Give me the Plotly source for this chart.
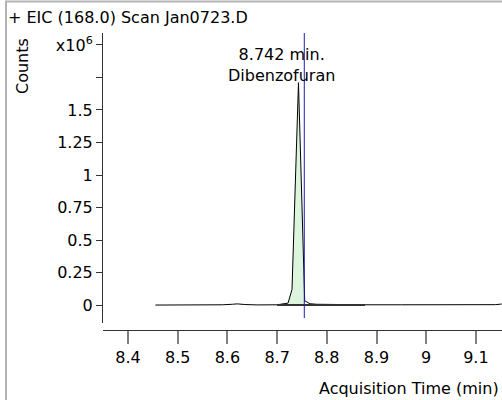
import plotly.graph_objects as go

# ---- data (counts in units of 1e6) ----
times = [8.455, 8.50, 8.55, 8.59, 8.61, 8.62, 8.635, 8.66, 8.70, 8.722, 8.730,
         8.743, 8.7555, 8.766, 8.78, 8.82, 8.877, 8.95, 9.05, 9.14, 9.152]
counts = [0.0, 0.0, 0.0, 0.002, 0.006, 0.009, 0.004, 0.001, 0.002, 0.015, 0.12,
          1.71, 0.033, 0.01, 0.006, 0.003, 0.002, 0.002, 0.002, 0.003, 0.008]
peak_start, peak_end = 9, 12          # indices of integrated peak region
baseline_x = [8.700, 8.877]
baseline_y = [0.0, 0.0]
marker_time = 8.7547
marker_y = [-0.1, 2.092]
peak_label = "8.742 min.<br>Dibenzofuran"
y_tickvals = [0, 0.25, 0.5, 0.75, 1, 1.25, 1.5, 2.0]
y_ticktext = ["0", "0.25", "0.5", "0.75", "1", "1.25", "1.5", "x10<sup>6</sup>"]
y_minor_ticks = [1.75]
x_tickvals = [8.4, 8.5, 8.6, 8.7, 8.8, 8.9, 9.0, 9.1]
x_ticktext = ["8.4", "8.5", "8.6", "8.7", "8.8", "8.9", "9", "9.1"]

W, H = 502, 400
L, R, T, B = 103, 0, 33, 70
pw, ph = W - L - R, H - T - B

def px(xp):
    return (xp - L) / pw

def py(yp):
    return (H - B - yp) / ph

FONT = "DejaVu Sans"
FS = 16

fig = go.Figure()
fig.add_trace(go.Scatter(
    x=times[peak_start:peak_end + 1], y=counts[peak_start:peak_end + 1],
    mode="lines", line=dict(width=0), fill="tozeroy",
    fillcolor="#dcf5dc", hoverinfo="skip", showlegend=False))
fig.add_trace(go.Scatter(
    x=times, y=counts, mode="lines", line=dict(color="black", width=1),
    showlegend=False))
fig.add_trace(go.Scatter(
    x=baseline_x, y=baseline_y, mode="lines",
    line=dict(color="#333333", width=2), showlegend=False))
fig.add_trace(go.Scatter(
    x=[marker_time, marker_time], y=marker_y, mode="lines",
    line=dict(color="#1c1cb4", width=1), showlegend=False))

fig.update_layout(
    width=W, height=H,
    margin=dict(l=L, r=R, t=T, b=B, pad=0),
    paper_bgcolor="white", plot_bgcolor="white",
    font=dict(family=FONT, size=FS, color="black"),
    xaxis=dict(
        range=[8.3497, 9.1525], anchor="free", position=0,
        showline=True, linecolor="#333333", linewidth=1,
        showgrid=False, zeroline=False,
        tickmode="array", tickvals=x_tickvals, ticktext=x_ticktext,
        ticks="outside", ticklen=13, tickwidth=1.5, tickcolor="#808080",
        tickfont=dict(size=FS),
    ),
    yaxis=dict(
        range=[-0.138, 2.092], domain=[(330 - 323) / ph, 1],
        showline=True, linecolor="#333333", linewidth=1,
        showgrid=False, zeroline=False,
        tickmode="array", tickvals=y_tickvals, ticktext=y_ticktext,
        ticks="outside", ticklen=6, tickwidth=1, tickcolor="#333333",
        tickfont=dict(size=FS),
        minor=dict(tickmode="array", tickvals=y_minor_ticks, ticks="outside",
                   ticklen=6, tickwidth=1, tickcolor="#333333", showgrid=False),
    ),
    annotations=[
        dict(text="+ EIC (168.0) Scan Jan0723.D", xref="paper", yref="paper",
             x=px(6), y=py(18), xanchor="left", yanchor="middle",
             showarrow=False, font=dict(size=FS)),
        dict(text="Counts", xref="paper", yref="paper", textangle=-90,
             x=px(22), y=py(66), xanchor="center", yanchor="middle",
             showarrow=False, font=dict(size=FS)),
        dict(text="Acquisition Time (min)", xref="paper", yref="paper",
             x=px(501), y=py(388), xanchor="right", yanchor="middle",
             showarrow=False, font=dict(size=FS)),
        dict(text=peak_label, xref="paper", yref="paper",
             x=px(281), y=py(65), xanchor="center", yanchor="middle",
             showarrow=False, font=dict(size=FS)),
    ],
    shapes=[
        dict(type="line", xref="paper", yref="paper", x0=px(5), x1=px(502),
             y0=py(1.5), y1=py(1.5), line=dict(color="#b4b4b4", width=2)),
        dict(type="line", xref="paper", yref="paper", x0=px(6), x1=px(6),
             y0=py(1), y1=py(400), line=dict(color="#b4b4b4", width=2)),
    ],
)

fig.write_html("out.html",
               config={"displayModeBar": False},
               post_script="document.body.style.margin='0';"
                           "document.body.style.overflow='hidden';")
